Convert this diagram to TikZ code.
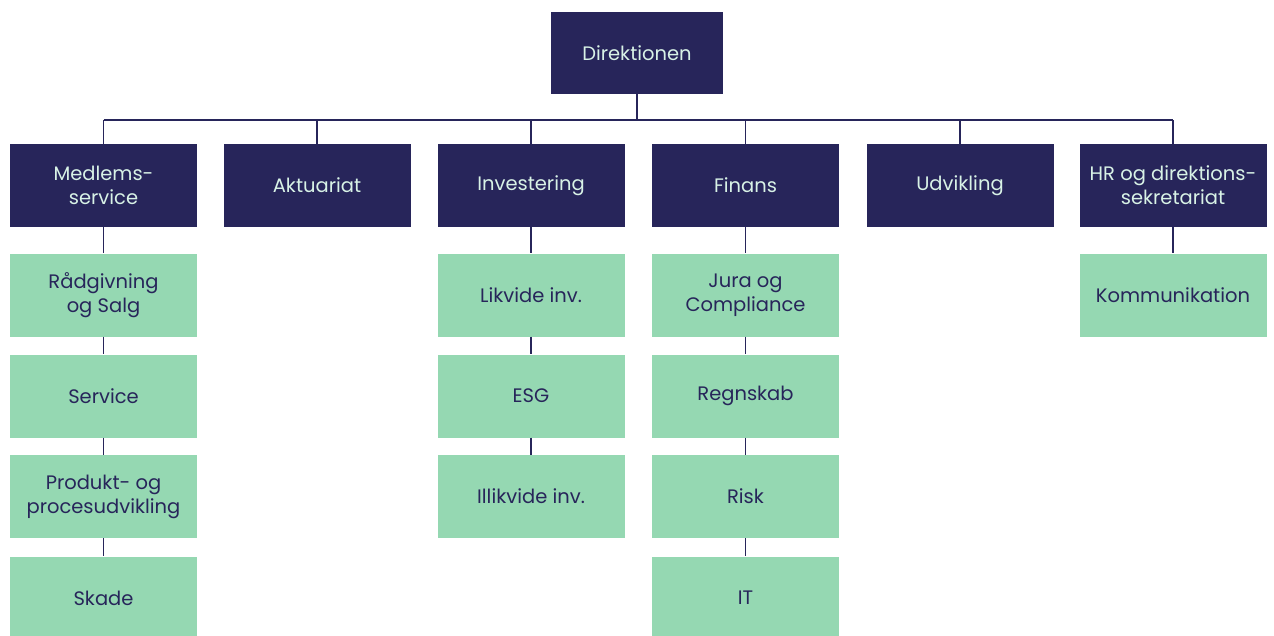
\documentclass[tikz,border=0pt]{standalone}
\usepackage{fontspec}
\setmainfont{Poppins}
\definecolor{navy}{HTML}{27255A}
\definecolor{mint}{HTML}{95D8B2}
\definecolor{pale}{HTML}{D8F2E6}
\begin{document}
\begin{tikzpicture}[x=1pt,y=-1pt,
    unit/.style={fill=navy,text=pale,minimum width=187pt,minimum height=83pt,
        align=center,font=\fontsize{19.5}{24}\selectfont,inner sep=0pt},
    subunit/.style={unit,fill=mint,text=navy},
    link/.style={draw=navy,line width=1.8pt}]
\useasboundingbox (0,0) rectangle (1274,635);

\node[unit,minimum width=172pt,minimum height=82pt] (dir) at (637,53) {Direktionen};

\node[unit] (ms) at (103.5,185.5) {Medlems-\\service};
\node[unit] (akt) at (317,185.5) {Aktuariat};
\node[unit] (inv) at (531,185.5) {Investering};
\node[unit] (fin) at (745.5,185.5) {Finans};
\node[unit] (udv) at (960,185.5) {Udvikling};
\node[unit] (hr) at (1173,185.5) {HR og direktions-\\sekretariat};

\node[subunit] (ms1) at (103.5,295) {Rådgivning\\og Salg};
\node[subunit] (ms2) at (103.5,396) {Service};
\node[subunit] (ms3) at (103.5,496.5) {Produkt- og\\procesudvikling};
\node[subunit] (ms4) at (103.5,598) {Skade};

\node[subunit] (inv1) at (531,295) {Likvide inv.};
\node[subunit] (inv2) at (531,396) {ESG};
\node[subunit] (inv3) at (531,496.5) {Illikvide inv.};

\node[subunit] (fin1) at (745.5,295) {Jura og\\Compliance};
\node[subunit] (fin2) at (745.5,396) {Regnskab};
\node[subunit] (fin3) at (745.5,496.5) {Risk};
\node[subunit] (fin4) at (745.5,598) {IT};

\node[subunit] (hr1) at (1173,295) {Kommunikation};

% bus under the board
\coordinate (busL) at (103.5,120);
\coordinate (busR) at (1173,120);
\draw[link] (busL) -- (busR);
\draw[link] (dir.south) -- (dir.south |- busL);
\foreach \n in {ms,akt,inv,fin,udv,hr}
    \draw[link] (\n.north) -- (\n.north |- busL);

% departments
\draw[link] (ms.south) -- (ms1.north) (ms1.south) -- (ms2.north)
    (ms2.south) -- (ms3.north) (ms3.south) -- (ms4.north);
\draw[link] (inv.south) -- (inv1.north) (inv1.south) -- (inv2.north)
    (inv2.south) -- (inv3.north);
\draw[link] (fin.south) -- (fin1.north) (fin1.south) -- (fin2.north)
    (fin2.south) -- (fin3.north) (fin3.south) -- (fin4.north);
\draw[link] (hr.south) -- (hr1.north);
\end{tikzpicture}
\end{document}
